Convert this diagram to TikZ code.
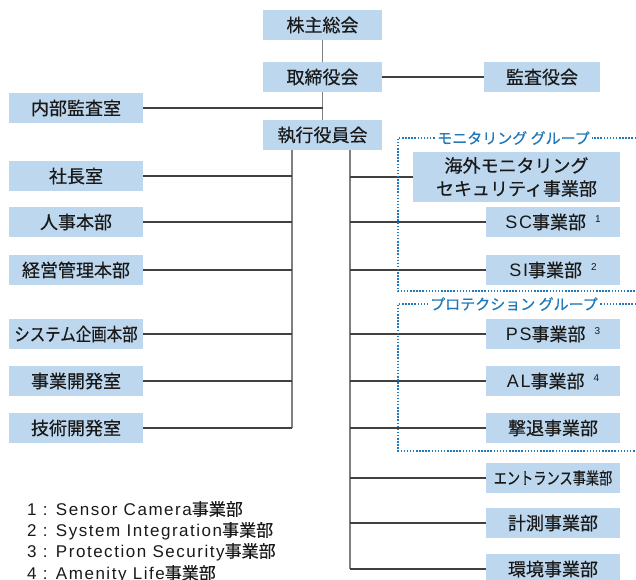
\documentclass[tikz,border=0pt]{standalone}
\usepackage{fontspec}
\setmainfont[FakeBold=0.4]{Noto Sans CJK JP}
\newfontfamily\jpbox[FakeBold=0.4]{Noto Sans CJK JP}
\newfontfamily\latinsp[LetterSpace=9]{Liberation Sans}
\definecolor{boxblue}{RGB}{189,215,238}
\definecolor{vline}{RGB}{128,128,128}
\definecolor{hline}{RGB}{64,64,64}
\definecolor{grpblue}{RGB}{30,120,185}
\definecolor{txt}{RGB}{25,25,25}
\tikzset{
  box/.style={fill=boxblue, minimum height=30pt, inner sep=0pt, text=txt, font=\jpbox\fontsize{18}{20}\selectfont, align=center},
  cbox/.style={box, minimum width=119pt},
  lbox/.style={box, minimum width=134pt},
  rbox/.style={box, minimum width=134pt},
  vconn/.style={draw=vline, line width=1.3pt},
  hconn/.style={draw=hline, line width=1.1pt},
  grpline/.style={draw=grpblue, line width=1.1pt, dash pattern=on 1.5pt off 1.6pt},
  grptitle/.style={fill=white, inner xsep=2pt, inner ysep=1pt, text=grpblue, font=\fontsize{15}{16}\selectfont},
  note/.style={anchor=west, inner sep=0pt, text=txt, font=\fontsize{17}{18}\selectfont}
}
\newcommand{\supnum}[1]{\hspace{9pt}\raisebox{6pt}{\latinsp\fontsize{10}{10}\selectfont #1}}
\newcommand{\lt}[1]{{\latinsp #1}}
\begin{document}
\begin{tikzpicture}[x=1pt,y=-1pt]
\useasboundingbox (0,0) rectangle (636,579);
% top
\node[cbox] (kabu) at (322.5,25) {株主総会};
\node[cbox] (tori) at (322.5,77) {取締役会};
\node[box, minimum width=116pt] (kansa) at (542,77) {監査役会};
\node[lbox] (naibu) at (76,108) {内部監査室};
\node[cbox] (shikko) at (322.5,135) {執行役員会};
% left
\node[lbox] (shacho) at (76,176) {社長室};
\node[lbox] (jinji) at (76,222) {人事本部};
\node[lbox] (keiei) at (76,270) {経営管理本部};
\node[lbox] (system) at (76,334) {\scalebox{0.86}[1]{システム企画本部}};
\node[lbox] (jigyo) at (76,381) {事業開発室};
\node[lbox] (gijutsu) at (76,428) {技術開発室};
% right
\node[box, minimum width=207pt, minimum height=50pt, font=\jpbox\fontsize{18}{23}\selectfont] (kaigai) at (516.5,177) {海外モニタリング\\セキュリティ事業部};
\node[rbox] (sc) at (553,222) {\lt{SC}事業部\supnum{1}};
\node[rbox] (si) at (553,270) {\lt{SI}事業部\supnum{2}};
\node[rbox] (ps) at (553,334) {\lt{PS}事業部\supnum{3}};
\node[rbox] (al) at (553,381) {\lt{AL}事業部\supnum{4}};
\node[rbox] (gekitai) at (553,428) {撃退事業部};
\node[rbox, font=\jpbox\fontsize{16.5}{18}\selectfont] (entrance) at (553,478) {\scalebox{0.8}[1]{エントランス事業部}};
\node[rbox] (keisoku) at (553,523) {計測事業部};
\node[rbox] (kankyo) at (553,569) {環境事業部};
% bus coordinates
\coordinate (lbx) at (292,0);
\coordinate (rbx) at (350,0);
% top connectors
\draw[vconn] (kabu) -- (tori);
\draw[vconn] (tori) -- (shikko);
\draw[hconn] (tori) -- (kansa);
\draw[hconn] (naibu.east) -- (naibu.east -| tori.south);
% left bus
\draw[vconn] (shikko.south -| lbx) -- (gijutsu.east -| lbx);
\foreach \n in {shacho,jinji,keiei,system,jigyo,gijutsu}
  \draw[hconn] (\n.east) -- (\n.east -| lbx);
% right bus
\draw[vconn] (shikko.south -| rbx) -- (kankyo.west -| rbx);
\foreach \n in {kaigai,sc,si,ps,al,gekitai,entrance,keisoku,kankyo}
  \draw[hconn] (\n.west -| rbx) -- (\n.west);
% groups
\draw[grpline] (636,138) -- (398,138) -- (398,291) -- (636,291);
\node[grptitle] (mongrp) at (513.5,138) {モニタリング グループ};
\draw[grpline] (636,304) -- (398,304) -- (398,451) -- (636,451);
\node[grptitle] (progrp) at (514,304) {プロテクション グループ};
% notes
\node[note] (n1) at (27,509) {\lt{1 : Sensor Camera}事業部};
\node[note] (n2) at (27,531) {\lt{2 : System Integration}事業部};
\node[note] (n3) at (27,552) {\lt{3 : Protection Security}事業部};
\node[note] (n4) at (27,574) {\lt{4 : Amenity Life}事業部};
\end{tikzpicture}
\end{document}
